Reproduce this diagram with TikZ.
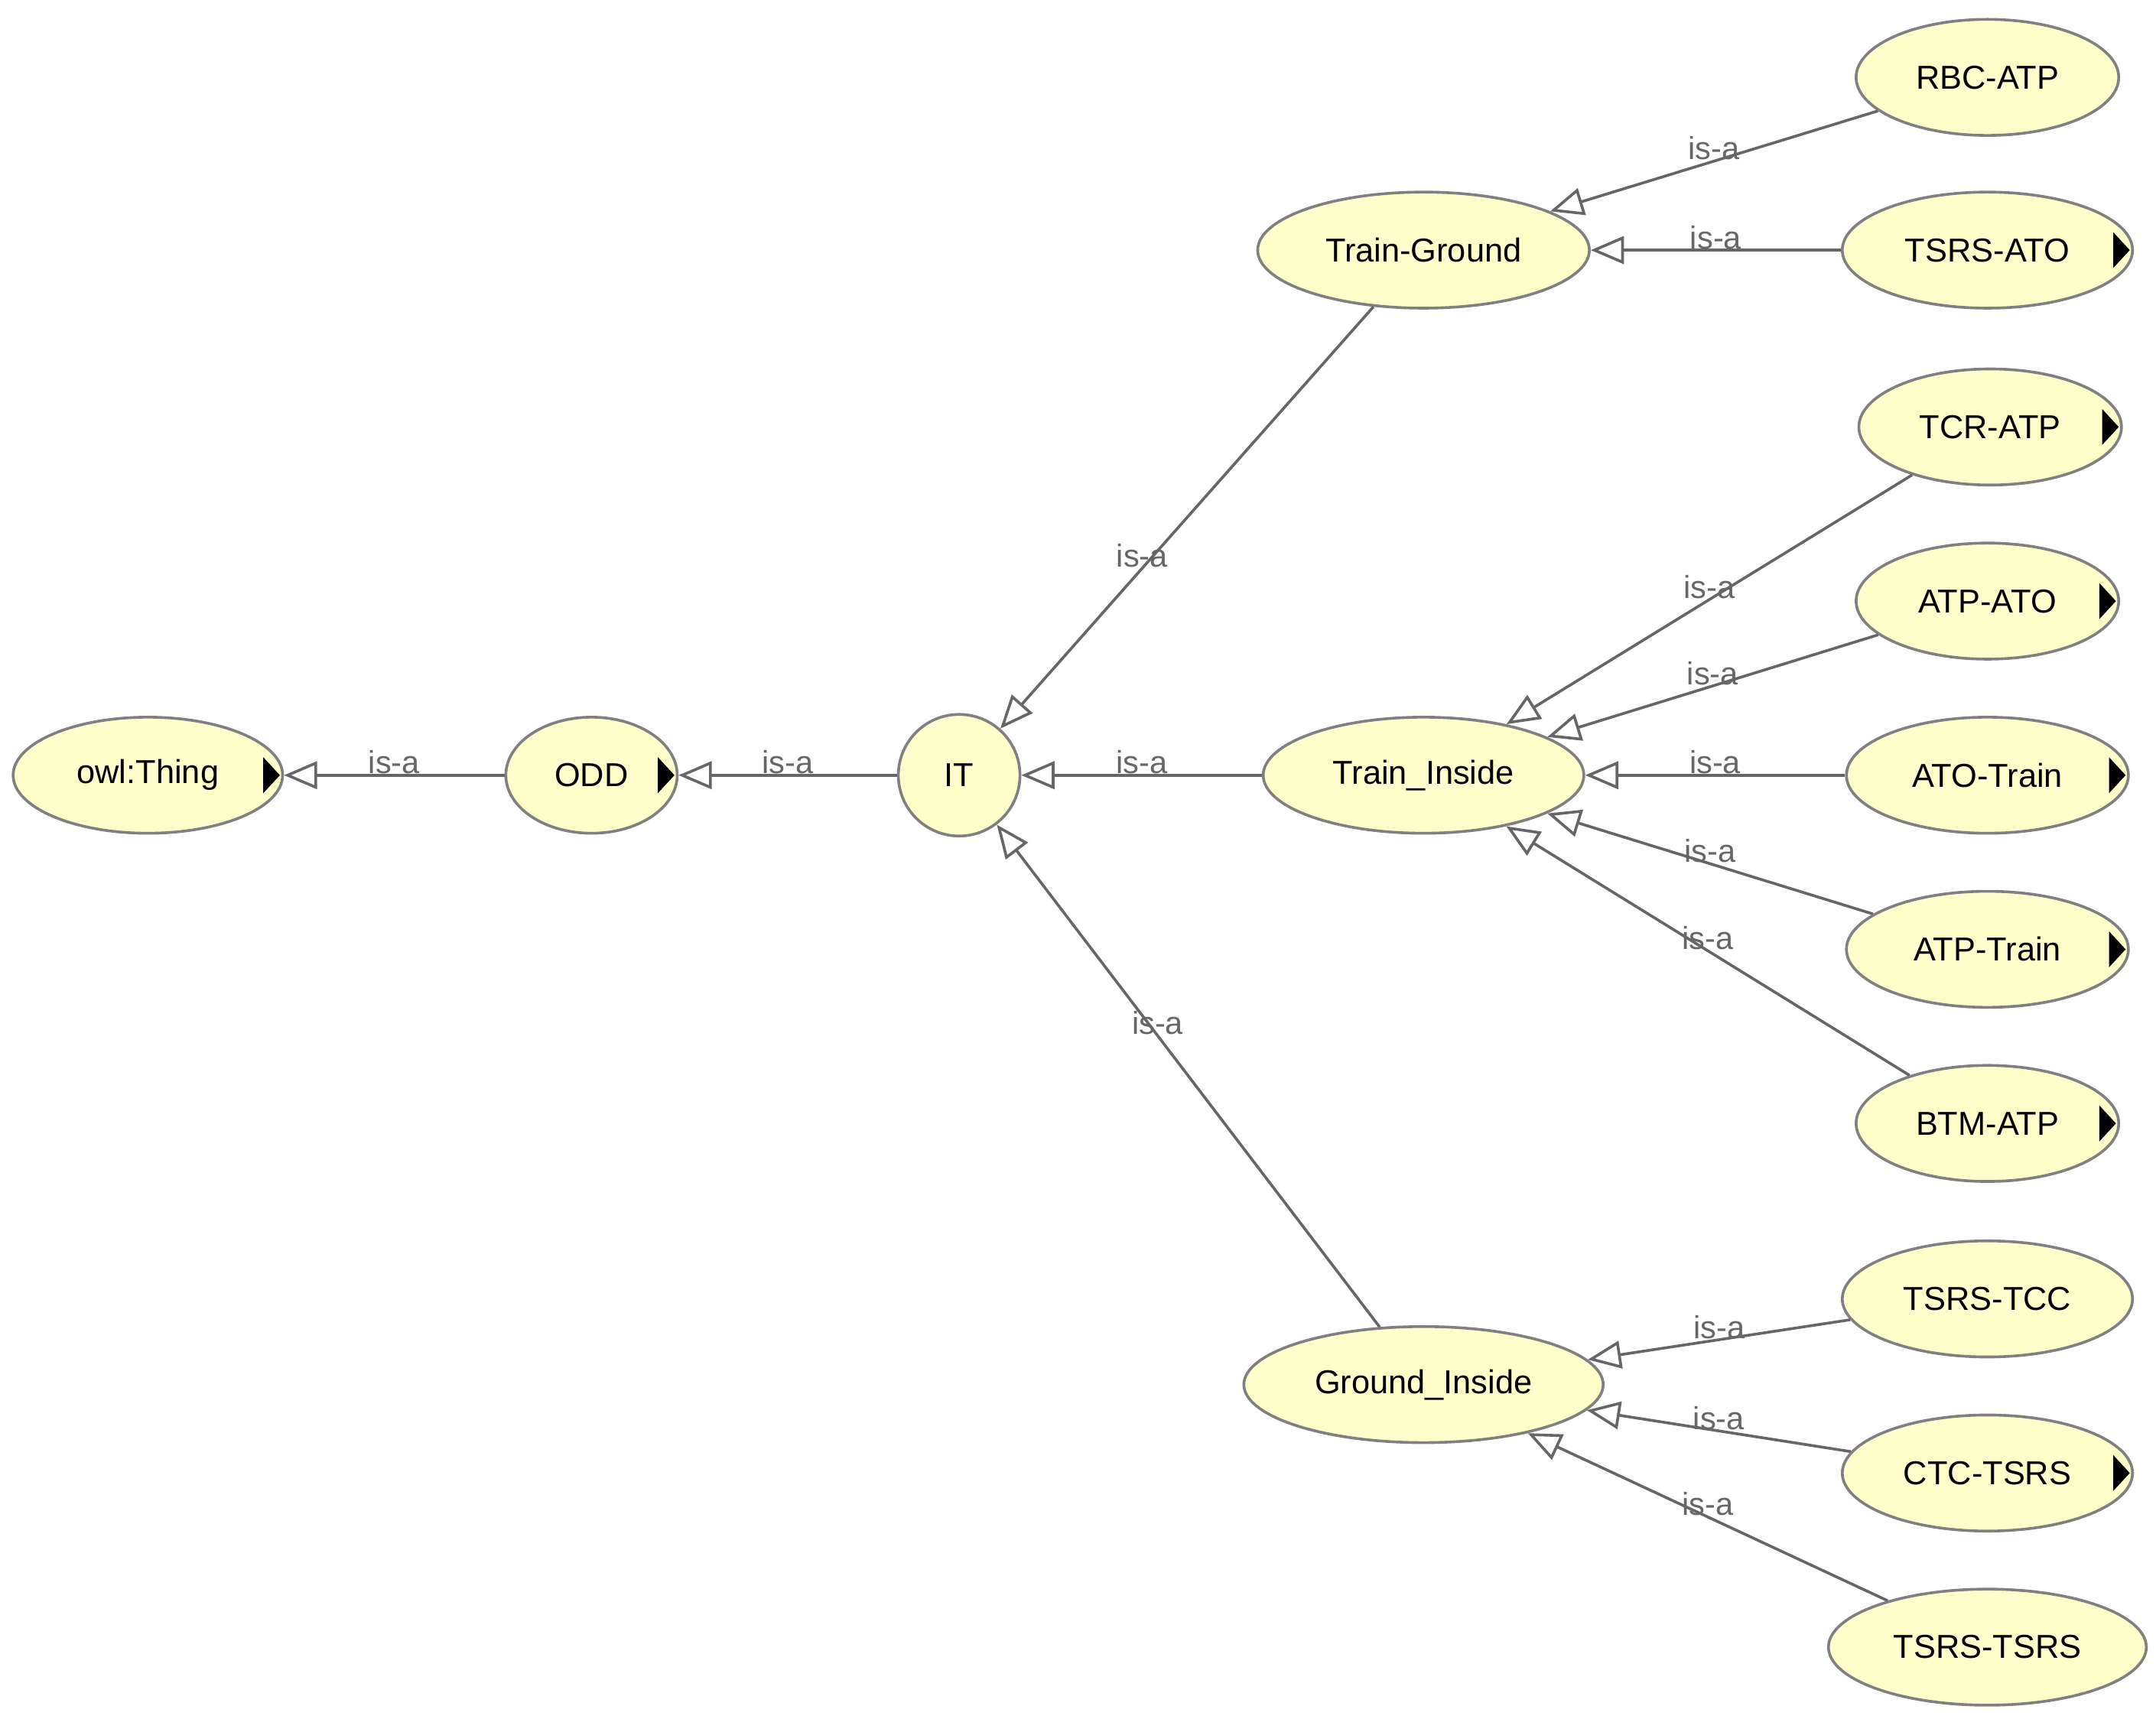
\documentclass[tikz,border=0pt]{standalone}
\usepackage{fontspec}
\setmainfont{Liberation Sans}
\usetikzlibrary{arrows.meta,shapes.geometric}
\definecolor{nodefill}{HTML}{FFFFCC}
\definecolor{nodeborder}{HTML}{808080}
\definecolor{edgecol}{HTML}{666666}
\begin{document}
\begin{tikzpicture}[x=1pt,y=-1pt,
  cls/.style={ellipse,draw=nodeborder,fill=nodefill,line width=2pt,minimum height=84pt,inner sep=0pt,font=\fontsize{24}{28}\selectfont},
  isa/.style={draw=edgecol,line width=2pt,-{Triangle[open,length=24pt,width=20pt,fill=white]}},
  lbl/.style={font=\fontsize{23}{26}\selectfont,text=edgecol,anchor=base,yshift=1pt},
  more/.style={}]
\useasboundingbox (0,0) rectangle (1560,1253);
\node[cls,minimum width=195pt] (owl) at (107,561) {owl:Thing};
\node[cls,minimum width=124pt] (odd) at (428,561) {ODD};
\node[cls,circle,minimum size=88pt] (it) at (694,561) {IT};
\node[cls,minimum width=240pt] (tg) at (1030,181) {Train-Ground};
\node[cls,minimum width=232pt] (ti) at (1030,561) {Train\_Inside};
\node[cls,minimum width=260pt] (gi) at (1030,1002) {Ground\_Inside};
\node[cls,minimum width=190pt] (rbc) at (1438,56) {RBC-ATP};
\node[cls,minimum width=210pt] (tsrsato) at (1438,181) {TSRS-ATO};
\node[cls,minimum width=190pt] (tcr) at (1440,309) {TCR-ATP};
\node[cls,minimum width=190pt] (atpato) at (1438,435) {ATP-ATO};
\node[cls,minimum width=204pt] (atotrain) at (1438,561) {ATO-Train};
\node[cls,minimum width=204pt] (atptrain) at (1438,687) {ATP-Train};
\node[cls,minimum width=190pt] (btm) at (1438,813) {BTM-ATP};
\node[cls,minimum width=210pt] (tsrstcc) at (1438,940) {TSRS-TCC};
\node[cls,minimum width=210pt] (ctc) at (1438,1066) {CTC-TSRS};
\node[cls,minimum width=230pt] (tsrstsrs) at (1438,1192) {TSRS-TSRS};
\foreach \n in {owl,odd,tsrsato,tcr,atpato,atotrain,atptrain,btm,ctc}
  \fill (\n.east) ++(-15,-13) -- ++(12,13) -- ++(-12,13) -- cycle;
\draw[isa] (odd) -- node[lbl]{is-a} (owl);
\draw[isa] (it) -- node[lbl]{is-a} (odd);
\draw[isa] (ti) -- node[lbl]{is-a} (it);
\draw[isa] (tg) -- node[lbl,pos=0.62]{is-a} (it);
\draw[isa] (gi) -- node[lbl,pos=0.58]{is-a} (it);
\draw[isa] (rbc) -- node[lbl]{is-a} (tg);
\draw[isa] (tsrsato) -- node[lbl]{is-a} (tg);
\draw[isa] (tcr) -- node[lbl]{is-a} (ti);
\draw[isa] (atpato) -- node[lbl]{is-a} (ti);
\draw[isa] (atotrain) -- node[lbl]{is-a} (ti);
\draw[isa] (atptrain) -- node[lbl]{is-a} (ti);
\draw[isa] (btm) -- node[lbl]{is-a} (ti);
\draw[isa] (tsrstcc) -- node[lbl]{is-a} (gi);
\draw[isa] (ctc) -- node[lbl]{is-a} (gi);
\draw[isa] (tsrstsrs) -- node[lbl]{is-a} (gi);
\end{tikzpicture}
\end{document}
